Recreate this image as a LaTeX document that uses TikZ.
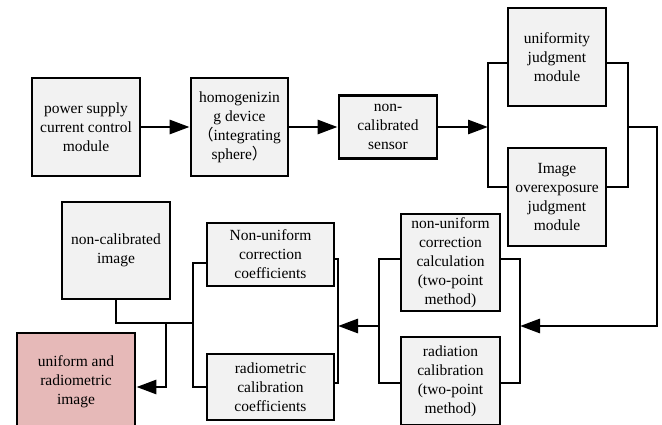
\documentclass[tikz,border=0pt]{standalone}
\usepackage{fontspec}
\setmainfont{Liberation Serif}
\newfontfamily\cjk{Noto Sans CJK SC}
\usetikzlibrary{arrows.meta}
\definecolor{boxgray}{HTML}{F2F2F2}
\definecolor{outpink}{HTML}{E6B9B8}

\begin{document}
\begin{tikzpicture}[x=1pt,y=-1pt,
      box/.style={draw, line width=2.9pt, fill=boxgray, align=center, inner sep=1pt,
                  font=\fontsize{15.5}{19}\selectfont},
      outbox/.style={box, fill=outpink},
      conn/.style={line width=2.9pt},
      arr/.style={conn, -{Triangle[length=20pt,width=14pt]}}
      ]
      \useasboundingbox (0,0) rectangle (662,425);
      \clip (0,0) rectangle (662,425);
      \fill[white] (0,0) rectangle (662,425);
      % top row
      \node[box, minimum width=108pt, minimum height=98pt] (pwr) at (86,127) {power supply\\current control\\module};
      \node[box, minimum width=97pt, minimum height=98pt] (hom) at (239.5,127) {homogenizin\\g device\\{\cjk （}integrating\\sphere{\cjk ）}};
      \node[box, minimum width=98pt, minimum height=63pt] (sens) at (388,127) {non-\\calibrated\\sensor};
      \node[box, minimum width=98pt, minimum height=98pt] (unif) at (557,57) {uniformity\\judgment\\module};
      \node[box, minimum width=98pt, minimum height=98pt] (expo) at (557,197) {Image\\overexposure\\judgment\\module};
      % lower right
      \node[box, minimum width=99pt, minimum height=97pt] (nuc) at (450.5,262.5) {non-uniform\\correction\\calculation\\(two-point\\method)};
      \node[box, minimum width=99pt, minimum height=88pt] (rad) at (450.5,381) {radiation\\calibration\\(two-point\\method)};
      \node[box, minimum width=127pt, minimum height=63pt] (coef1) at (270.5,254.5) {Non-uniform\\correction\\coefficients};
      \node[box, minimum width=127pt, minimum height=66pt] (coef2) at (270.5,387) {radiometric\\calibration\\coefficients};
      % lower left
      \node[box, minimum width=108pt, minimum height=97pt] (raw) at (116,250.5) {non-calibrated\\image};
      \node[outbox, minimum width=118pt, minimum height=98pt] (out) at (76,382) {uniform and\\radiometric\\image};

      % bus points
      \coordinate (inT) at (488,63);  \coordinate (inM) at (488,127); \coordinate (inB) at (488,187);
      \coordinate (outT) at (628,63); \coordinate (outM) at (628,127); \coordinate (outB) at (628,187);
      \coordinate (fr1) at (657,127); \coordinate (fr2) at (657,326);
      \coordinate (rT) at (520,259);  \coordinate (rM) at (520,326);  \coordinate (rB) at (520,383);
      \coordinate (lT) at (379,259);  \coordinate (lM) at (379,326);  \coordinate (lB) at (379,383);
      \coordinate (cT) at (338,259);  \coordinate (cM) at (338,326);  \coordinate (cB) at (338,383);
      \coordinate (kT) at (193,263);  \coordinate (kM) at (193,323);  \coordinate (kB) at (193,387);
      \coordinate (jn) at (166,323);

      \draw[arr] (pwr) -- (hom);
      \draw[arr] (hom) -- (sens);
      \draw[arr] (sens.east) -- (inM);
      \draw[conn] (unif.west |- inT) -- (inT) -- (inB) -- (expo.west |- inB);
      \draw[conn] (unif.east |- outT) -- (outT) -- (outB) -- (expo.east |- outB);
      \draw[arr] (outM) -- (fr1) -- (fr2) -- (rM);
      \draw[conn] (nuc.east |- rT) -- (rT) -- (rB) -- (rad.east |- rB);
      \draw[conn] (nuc.west |- lT) -- (lT) -- (lB) -- (rad.west |- lB);
      \draw[arr] (lM) -- (cM);
      \draw[conn] (coef1.east |- cT) -- (cT) -- (cB) -- (coef2.east |- cB);
      \draw[conn] (coef1.west |- kT) -- (kT) -- (kB) -- (coef2.west |- kB);
      \draw[conn] (raw.south) |- (kM);
      \draw[arr] (jn) |- (out.east |- kB);
\end{tikzpicture}
\end{document}
